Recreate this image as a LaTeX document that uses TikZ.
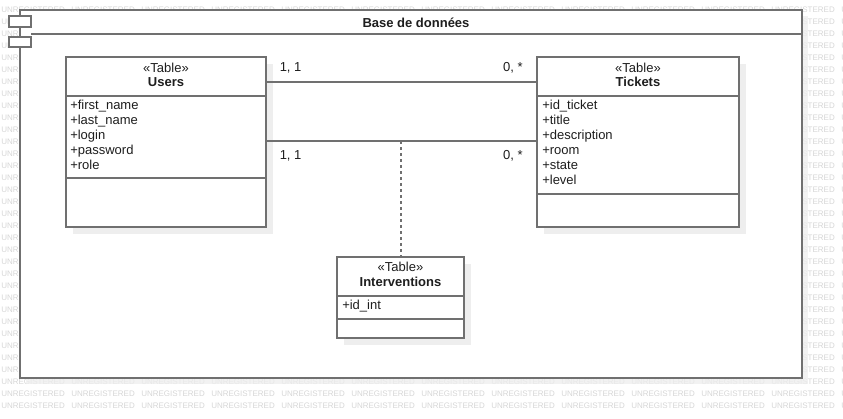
\documentclass[tikz,border=0pt]{standalone}
\usepackage{fontspec}
\setmainfont{Liberation Sans}
\definecolor{lc}{RGB}{112,112,112}
\definecolor{wm}{RGB}{214,214,214}
\definecolor{sh}{RGB}{238,238,238}
\definecolor{tx}{RGB}{30,30,30}
\tikzset{
  tablebox/.style={rectangle, draw=lc, line width=1.2pt, fill=white, inner sep=0pt, outer sep=0pt},
  sepline/.style={draw=lc, line width=1.2pt},
  framestyle/.style={draw=lc, line width=1.2pt},
  shadowfill/.style={fill=sh},
  basetext/.style={font=\fontsize{9.75pt}{11pt}\selectfont, text=tx, inner sep=0pt, text height=7pt, text depth=2pt},
  stereo/.style={basetext},
  tname/.style={basetext, font=\fontsize{9.75pt}{11pt}\selectfont\bfseries},
  attr/.style={basetext, anchor=west},
  multl/.style={basetext, anchor=west},
  multr/.style={basetext, anchor=east},
  conn/.style={draw=lc, line width=1.2pt},
  depend/.style={draw=lc, line width=0.9pt, dash pattern=on 2.25pt off 2.25pt},
  wmtext/.style={font=\fontsize{6pt}{7pt}\selectfont, text=wm, inner sep=0pt, anchor=west, text height=4.3pt, text depth=0pt}
}
\begin{document}
\begin{tikzpicture}[x=0.75pt,y=-0.75pt]
\useasboundingbox (0,0) rectangle (843,418);
% watermark
\foreach \k in {0,...,33} {
  \foreach \i in {0,...,12} {
    \node[wmtext] (wm-\k-\i) at ({1+70*\i},{9.3+12*\k}) {UNREGISTERED};
  }
}
% frame shadow and frame
\fill[shadowfill, opacity=0.75] (26,16) rectangle (808,384);
\fill[white] (20,10) rectangle (802,378);
\draw[framestyle] (20,10) rectangle (802,378);
\draw[framestyle] (31,34) -- (802,34);
\draw[framestyle, fill=white] (9,16) rectangle (31,27);
\draw[framestyle, fill=white] (9,37) rectangle (31,47);
\node[tname] (dbtitle) at (416,24) {Base de données};
% shadows of tables
\fill[shadowfill] (73,64) rectangle (273,234);
\fill[shadowfill] (544,64) rectangle (746,234);
\fill[shadowfill] (344,264) rectangle (471,345);
% Users
\node[tablebox, minimum width=150pt, minimum height=127.5pt] (users) at (166,142) {};
\draw[sepline] (66,96) -- (266,96);
\draw[sepline] (66,178) -- (266,178);
\node[stereo] (users-st) at (166,69) {«Table»};
\node[tname] (users-nm) at (166,83) {Users};
\node[attr] (users-a1) at (70,106.5) {+first\_name};
\node[attr] (users-a2) at (70,121.5) {+last\_name};
\node[attr] (users-a3) at (70,136.5) {+login};
\node[attr] (users-a4) at (70,151.5) {+password};
\node[attr] (users-a5) at (70,166.5) {+role};
% Tickets
\node[tablebox, minimum width=151.5pt, minimum height=127.5pt] (tickets) at (638,142) {};
\draw[sepline] (537,96) -- (739,96);
\draw[sepline] (537,194) -- (739,194);
\node[stereo] (tickets-st) at (638,69) {«Table»};
\node[tname] (tickets-nm) at (638,83) {Tickets};
\node[attr] (tickets-a1) at (542,106.5) {+id\_ticket};
\node[attr] (tickets-a2) at (542,121.5) {+title};
\node[attr] (tickets-a3) at (542,136.5) {+description};
\node[attr] (tickets-a4) at (542,151.5) {+room};
\node[attr] (tickets-a5) at (542,166.5) {+state};
\node[attr] (tickets-a6) at (542,181.5) {+level};
% Interventions
\node[tablebox, minimum width=95.25pt, minimum height=60.75pt] (interv) at (400.5,297.5) {};
\draw[sepline] (337,296) -- (464,296);
\draw[sepline] (337,319) -- (464,319);
\node[stereo] (interv-st) at (400.5,268.5) {«Table»};
\node[tname] (interv-nm) at (400.5,283.5) {Interventions};
\node[attr] (interv-a1) at (342,306.5) {+id\_int};
% connectors
\coordinate (r1) at (0,82);
\coordinate (r2) at (0,141);
\draw[conn] (users.east |- r1) -- (tickets.west |- r1);
\draw[conn] (users.east |- r2) -- (tickets.west |- r2);
\coordinate (assoc) at (401,141);
\draw[depend] (assoc) -- (assoc |- interv.north);
% multiplicities
\node[multl] (m1) at (279.5,68.5) {1, 1};
\node[multr] (m2) at (523,68.5) {0, *};
\node[multl] (m3) at (279.5,156.5) {1, 1};
\node[multr] (m4) at (523,156.5) {0, *};
\end{tikzpicture}
\end{document}
